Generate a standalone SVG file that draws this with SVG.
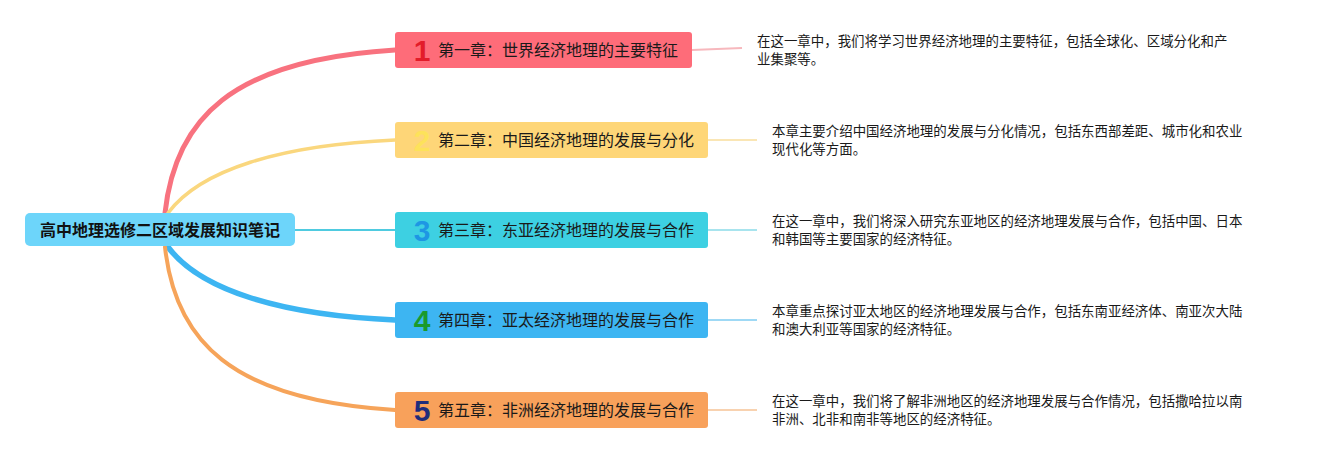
<svg xmlns="http://www.w3.org/2000/svg" width="1333" height="460" viewBox="0 0 1333 460">
<style>
.t{font-family:"Noto Sans CJK SC","Liberation Sans",sans-serif;font-size:16px;fill:#1a1a1a}
.r{font-family:"Noto Sans CJK SC","Liberation Sans",sans-serif;font-size:16px;font-weight:bold;fill:#111}
.d{font-family:"Noto Sans CJK SC","Liberation Sans",sans-serif;font-size:13.45px;fill:#1a1a1a}
.n{font-family:"Liberation Sans",sans-serif;font-size:30px;font-weight:bold;text-anchor:middle}
.c{fill:none;stroke-linecap:round}
</style>
<rect width="1333" height="460" fill="#fff"/>
<g id="connectors">
<path class="c" d="M165,213 C175,120 230,60 395,50" stroke="#f8727f" stroke-width="5"/>
<path class="c" d="M168,213 C200,170 280,145 395,140" stroke="#fad77e" stroke-width="3.5"/>
<path class="c" d="M295,230 L395,230" stroke="#4fcbe0" stroke-width="2"/>
<path class="c" d="M168,247 C200,290 280,315 395,320" stroke="#3db5f2" stroke-width="5.5"/>
<path class="c" d="M165,247 C175,340 230,400 395,410" stroke="#f6a45a" stroke-width="4"/>
<path d="M692,50 L742,48" stroke="#f7b8bd" stroke-width="2" fill="none"/>
<path d="M708,140 L757,140" stroke="#fae6b5" stroke-width="2" fill="none"/>
<path d="M708,230 L757,230" stroke="#a8e4ee" stroke-width="2" fill="none"/>
<path d="M708,320 L757,320" stroke="#9fd9f5" stroke-width="2" fill="none"/>
<path d="M708,410 L757,410" stroke="#f8d2b0" stroke-width="2" fill="none"/>
</g>
<g id="root">
<rect x="25" y="213" width="270" height="33" rx="5" fill="#6dd5fa"/>
<text class="r" x="160" y="235.5" text-anchor="middle">高中地理选修二区域发展知识笔记</text>
</g>
<g id="ch1">
<rect x="395" y="32" width="297" height="36" rx="3" fill="#fe6c79"/>
<text class="n" x="422" y="61" fill="#e31c2a">1</text>
<text class="t" x="438" y="55.5">第一章：世界经济地理的主要特征</text>
</g>
<g id="ch2">
<rect x="395" y="122" width="313" height="36" rx="3" fill="#fed678"/>
<text class="n" x="422" y="151" fill="#fde25a">2</text>
<text class="t" x="438" y="145.5">第二章：中国经济地理的发展与分化</text>
</g>
<g id="ch3">
<rect x="395" y="212" width="313" height="36" rx="3" fill="#3dd0e2"/>
<text class="n" x="422" y="241" fill="#1e96e4">3</text>
<text class="t" x="438" y="235.5">第三章：东亚经济地理的发展与合作</text>
</g>
<g id="ch4">
<rect x="395" y="302" width="313" height="36" rx="3" fill="#3db5f2"/>
<text class="n" x="422" y="331" fill="#1a9a2c">4</text>
<text class="t" x="438" y="325.5">第四章：亚太经济地理的发展与合作</text>
</g>
<g id="ch5">
<rect x="395" y="392" width="313" height="36" rx="3" fill="#f8a15b"/>
<text class="n" x="422" y="421" fill="#1f2d7b">5</text>
<text class="t" x="438" y="415.5">第五章：非洲经济地理的发展与合作</text>
</g>
<g id="desc1">
<text class="d" x="757" y="45.5">在这一章中，我们将学习世界经济地理的主要特征，包括全球化、区域分化和产</text>
<text class="d" x="757" y="63.5">业集聚等。</text>
</g>
<g id="desc2">
<text class="d" x="772" y="135.5">本章主要介绍中国经济地理的发展与分化情况，包括东西部差距、城市化和农业</text>
<text class="d" x="772" y="153.5">现代化等方面。</text>
</g>
<g id="desc3">
<text class="d" x="772" y="225.5">在这一章中，我们将深入研究东亚地区的经济地理发展与合作，包括中国、日本</text>
<text class="d" x="772" y="243.5">和韩国等主要国家的经济特征。</text>
</g>
<g id="desc4">
<text class="d" x="772" y="315.5">本章重点探讨亚太地区的经济地理发展与合作，包括东南亚经济体、南亚次大陆</text>
<text class="d" x="772" y="333.5">和澳大利亚等国家的经济特征。</text>
</g>
<g id="desc5">
<text class="d" x="772" y="405.5">在这一章中，我们将了解非洲地区的经济地理发展与合作情况，包括撒哈拉以南</text>
<text class="d" x="772" y="423.5">非洲、北非和南非等地区的经济特征。</text>
</g>
</svg>
